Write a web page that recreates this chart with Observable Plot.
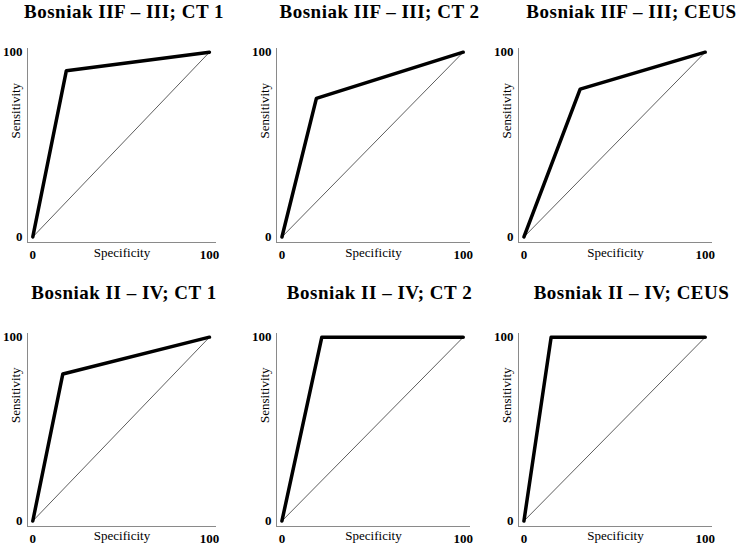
<!DOCTYPE html>
<html>
<head>
<meta charset="utf-8">
<script src="https://cdn.jsdelivr.net/npm/d3@7"></script>
<script src="https://cdn.jsdelivr.net/npm/@observablehq/plot@0.6"></script>
<style>
  html, body { margin: 0; padding: 0; background: white; }
  #grid { display: flex; flex-wrap: wrap; width: 738px; }
  #grid svg { display: block; }
  #grid [aria-label="x-axis tick label"] text,
  #grid [aria-label="y-axis tick label"] text { font-weight: bold; }
</style>
</head>
<body>
<div id="grid"></div>
<script>
// ---- data ----
const titles = [
  "Bosniak IIF – III; CT 1",
  "Bosniak IIF – III; CT 2",
  "Bosniak IIF – III; CEUS",
  "Bosniak II – IV; CT 1",
  "Bosniak II – IV; CT 2",
  "Bosniak II – IV; CEUS"
];
const kneeSpecificity = [19, 19, 31, 17, 22, 15];   // x of the ROC knee point
const kneeSensitivity = [90, 75, 80, 80, 100, 100]; // y of the ROC knee point
const xTicks = [0, 100];
const yTicks = [0, 100];
const xLabel = "Specificity";
const yLabel = "Sensitivity";

// ---- layout ----
const colMarginLeft = [27, 30, 26];
const colMarginRight = [30, 22, 26];
const rowMarginTop = [48, 59];
const rowMarginBottom = [32, 22];
const titleDx = [2, 6, 16];
const titleBaseline = [17, 24];
const xLabelDy = [14, 13];

const font = "'Liberation Serif', 'Times New Roman', serif";
const grid = document.getElementById("grid");

titles.forEach((title, i) => {
  const row = Math.floor(i / 3), col = i % 3;
  const curve = [
    {x: 0, y: 0},
    {x: kneeSpecificity[i], y: kneeSensitivity[i]},
    {x: 100, y: 100}
  ];
  const diag = [{x: 0, y: 0}, {x: 100, y: 100}];
  const xDom = [-3, 104], yDom = [-3, 102];
  const chart = Plot.plot({
    width: 246,
    height: 274,
    marginLeft: colMarginLeft[col],
    marginRight: colMarginRight[col],
    marginTop: rowMarginTop[row],
    marginBottom: rowMarginBottom[row],
    style: {fontFamily: font, background: "white", color: "black", overflow: "visible"},
    x: {domain: xDom},
    y: {domain: yDom},
    marks: [
      Plot.ruleX([xDom[0]], {stroke: "#8a8a8a", strokeWidth: 1}),
      Plot.ruleY([yDom[0]], {stroke: "#8a8a8a", strokeWidth: 1}),
      Plot.axisX({ticks: xTicks, tickSize: 0, tickPadding: 7, fontSize: 13, fontWeight: "bold", label: null, tickFormat: d => String(d)}),
      Plot.axisY({ticks: yTicks, tickSize: 0, tickPadding: 5, fontSize: 13, fontWeight: "bold", label: null, tickFormat: d => String(d)}),
      Plot.line(diag, {x: "x", y: "y", stroke: "#333", strokeWidth: 0.8}),
      Plot.line(curve, {x: "x", y: "y", stroke: "black", strokeWidth: 3.5}),
      Plot.text([xLabel], {text: d => d, frameAnchor: "bottom", dy: xLabelDy[row], fontSize: 13, fill: "black"}),
      Plot.text([yLabel], {text: d => d, frameAnchor: "left", dx: -12, dy: -7, rotate: -90, fontSize: 13, fill: "black"}),
      Plot.text([title], {text: d => d, frameAnchor: "top", lineAnchor: "bottom", dx: titleDx[col], dy: titleBaseline[row] - rowMarginTop[row], fontSize: 19, fontWeight: "bold", fill: "black"})
    ]
  });
  // slightly wider title lettering, as in the reference
  chart.querySelectorAll("text").forEach(t => {
    if (t.textContent === title) t.style.letterSpacing = "0.5px";
  });
  grid.appendChild(chart);
});
</script>
</body>
</html>
